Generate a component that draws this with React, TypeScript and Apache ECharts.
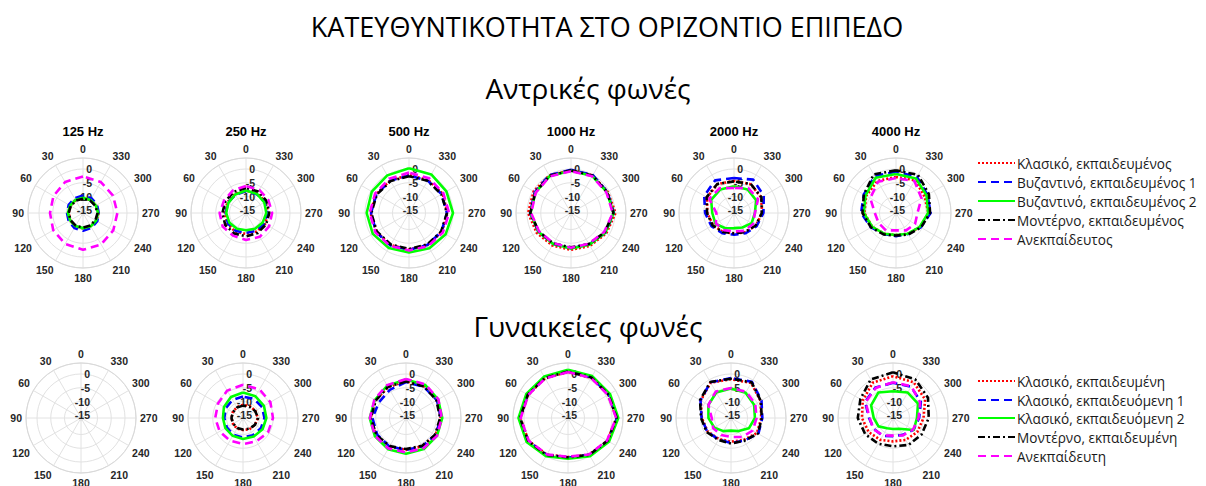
import React, { useEffect, useRef } from "react";
import * as echarts from "echarts";

// Measurement directions (degrees), counter-clockwise from the front
const angles = [0, 30, 60, 90, 120, 150, 180, 210, 240, 270, 300, 330];
const freqLabels = ["125 Hz", "250 Hz", "500 Hz", "1000 Hz", "2000 Hz", "4000 Hz"];
const radialTicks = [-15, -10, -5, 0];

const maleNames = [
  "Κλασικό, εκπαιδευμένος",
  "Βυζαντινό, εκπαιδευμένος 1",
  "Βυζαντινό, εκπαιδευμένος 2",
  "Μοντέρνο, εκπαιδευμένος",
  "Ανεκπαίδευτος",
];
const femaleNames = [
  "Κλασικό, εκπαιδευμένη",
  "Κλασικό, εκπαιδευόμενη 1",
  "Κλασικό, εκπαιδευόμενη 2",
  "Μοντέρνο, εκπαιδευμένη",
  "Ανεκπαίδευτη",
];

const lineColors = ["#ff0000", "#0000ff", "#00ff00", "#000000", "#ff00ff"];
const lineDashes: (number[] | "solid")[] = [[2, 2], [8, 5], "solid", [7, 3, 2, 3], [8, 5]];

// Relative level (dB) per direction; order: red, blue, green, black, magenta
const male125 = [
  [-10.6, -10.6, -10.7, -10.8, -10.6, -10.5, -10.4, -10.5, -10.4, -10.3, -10.5, -10.6],
  [-9.6, -9.8, -10, -10.2, -10, -9.7, -9.5, -9.8, -10, -10.3, -10.1, -9.8],
  [-10.5, -10.5, -10.6, -10.5, -10.6, -10.5, -10.5, -10.4, -10.5, -10.5, -10.6, -10.5],
  [-10.8, -10.8, -10.9, -10.8, -10.8, -10.7, -10.7, -10.8, -10.8, -10.7, -10.8, -10.8],
  [-2.7, -3, -3.6, -4, -3.5, -3, -2.6, -2.8, -3.3, -3.5, -3.4, -3],
];
const male250 = [
  [-7.9, -8, -8.2, -8.3, -8.2, -8.2, -8.4, -8.2, -8, -7.9, -7.8, -7.8],
  [-8.1, -8.3, -8.5, -8.6, -8.4, -8.5, -8.8, -8.5, -8.3, -8.2, -8.1, -8.1],
  [-7.8, -8.2, -8.6, -8.8, -9, -9.4, -9.7, -9.4, -9, -8.6, -8.3, -8],
  [-6.9, -7.1, -7.4, -7.4, -7.3, -7.4, -7.5, -7.6, -7.6, -7.5, -7.3, -7],
  [-6.2, -6.5, -6.8, -6.4, -6.2, -6.5, -6.2, -6, -6.3, -6.5, -6.6, -6.3],
];
const male500 = [
  [-2.2, -2.3, -2.2, -2, -2.3, -2.6, -2.7, -2.5, -2.2, -2, -1.9, -2.1],
  [-2.4, -2.4, -2.3, -2.2, -2.2, -2.4, -2.6, -2.6, -2.4, -2.2, -2.3, -2.4],
  [0.3, -0.2, -0.4, -0.6, -0.8, -1.3, -1.6, -1.2, -0.6, 0, -0.3, 0.2],
  [-2.6, -2.6, -2.5, -2.3, -2.5, -2.8, -2.9, -2.8, -2.5, -2.2, -2.4, -2.5],
  [-1.3, -1.6, -1.8, -1.7, -1.9, -2.2, -2.4, -2.1, -1.8, -1.4, -1.6, -1.4],
];
const male1000 = [
  [-0.4, -0.2, -0.3, -0.4, -1.6, -2.4, -2.6, -2.2, -1.2, 0.2, -0.6, -0.2],
  [-0.3, -0.1, -0.8, -1.1, -2.3, -3, -3.2, -2.8, -1.6, -0.4, -0.7, -0.1],
  [-0.6, -0.5, -1.1, -1.3, -2.3, -3, -3.1, -2.7, -1.6, -0.5, -0.9, -0.5],
  [-0.5, -0.4, -1, -1.2, -2.5, -3.2, -3.5, -3, -1.9, -0.6, -0.8, -0.3],
  [-0.8, -0.6, -1.2, -1.5, -2.6, -3.3, -3.4, -3.1, -2.1, -0.8, -1.1, -0.6],
];
const male2000 = [
  [-4.3, -3.9, -4.7, -6.3, -7.2, -8, -8.5, -7.9, -6.8, -5.8, -4.6, -3.9],
  [-3.3, -2.3, -3.5, -5.5, -6.5, -7.5, -8.1, -7.5, -6.5, -5.3, -3.5, -2],
  [-6.3, -6.1, -6.4, -8.1, -8.2, -9.6, -10.5, -9.9, -8.6, -8.4, -6.7, -6.1],
  [-4.5, -3.8, -4.5, -6.2, -7, -8, -8.6, -8, -6.9, -5.9, -4.5, -3.8],
  [-6.9, -5.6, -5.6, -9.6, -8.4, -8.8, -9.3, -8.5, -8, -8.4, -5.9, -5.6],
];
const male4000 = [
  [-2.9, -2.5, -3.5, -4.5, -6, -7.3, -8, -7.3, -5.8, -4.2, -4, -2.2],
  [-1, -0.5, -2.5, -3.3, -5.5, -7.2, -7.6, -7.2, -5.6, -3.4, -2.8, -0.8],
  [-1.8, -1.2, -3.2, -4.3, -6, -7.3, -8, -7.3, -6, -4.3, -3.2, -1.5],
  [-0.5, 0.2, -2.5, -3.8, -5.5, -7, -7.8, -7, -5.5, -3.6, -2.2, 0],
  [-3.3, -2.9, -5.2, -8.3, -8.7, -8.7, -9.7, -8.7, -8, -8.2, -5.3, -2.6],
];

const female125: number[][] = [[], [], [], [], []];
const female250 = [
  [-11.2, -11.5, -11.7, -11.8, -11.8, -11.6, -11.6, -11.3, -11, -10.6, -10.8, -11],
  [-8.2, -8.4, -8.8, -9.2, -9.2, -9, -8.9, -8.8, -8.5, -8.2, -8, -8],
  [-6.7, -7.2, -8, -8.7, -8.6, -8.5, -8.4, -8.2, -7.8, -7.5, -7.2, -6.9],
  [-11.5, -11.6, -11.8, -11.8, -11.9, -11.8, -11.8, -11.5, -11, -10.5, -10.9, -11.3],
  [-3.9, -4.5, -5.5, -5.9, -6.2, -6.5, -6.5, -6.2, -5.5, -5.1, -4.5, -4],
];
const female500 = [
  [-2.6, -3, -3.2, -3.1, -3.4, -3.9, -4.4, -4.1, -3.6, -3.4, -3, -2.7],
  [-2.9, -4.2, -4.6, -3.8, -3.9, -4, -4.4, -4.1, -3.6, -3.3, -3, -2.9],
  [-2, -2.4, -2.9, -2.8, -2.9, -2.9, -3, -3, -3, -2.8, -2.5, -2.1],
  [-2.7, -2.9, -3.3, -3.2, -3.6, -4.2, -4.7, -4.3, -3.8, -3.6, -3.2, -2.8],
  [-1.8, -2.2, -2.7, -2.9, -3, -3.2, -3.5, -3.3, -3, -3, -2.4, -1.9],
];
const female1000 = [
  [0.8, 0.7, 0.8, 1.3, 0.6, -0.6, -1.8, -0.6, 0.5, 1.6, 0.9, 0.9],
  [1, 0.9, 1, 1.5, 0.8, -0.5, -1.6, -0.5, 0.7, 1.8, 1.1, 1.1],
  [1.5, 1.4, 1.5, 2, 1.4, 0, -1.2, 0, 1.2, 2.3, 1.6, 1.6],
  [0.9, 0.8, 0.9, 1.4, 0.7, -0.5, -1.7, -0.5, 0.6, 1.7, 1, 1],
  [0.7, 0.6, 0.7, 1.2, 0.5, -0.7, -1.9, -0.7, 0.4, 1.5, 0.8, 0.8],
];
const female2000 = [
  [-1.9, -1.2, -3.3, -5.4, -6.2, -7.2, -7.4, -6.8, -5.1, -5, -3.6, -1.3],
  [-1.5, -1, -3.2, -5.3, -6, -7, -6.9, -6.5, -4.5, -4.6, -3.2, -0.8],
  [-5.3, -5.3, -6.5, -7.8, -9, -10.5, -11.4, -10.5, -8.5, -7.3, -6.3, -5.4],
  [-1.7, -0.9, -3, -5.1, -5.8, -6.8, -6.7, -6.4, -4.7, -4.8, -3.5, -1],
  [-5.1, -4.9, -6.5, -9, -8.5, -8.9, -9.1, -8, -6.9, -6.7, -5.8, -5],
];
const female4000 = [
  [-0.8, -1.2, -3.3, -4.7, -5.8, -6.8, -7.5, -6.8, -5.8, -4.9, -2.5, -1],
  [-3.2, -3.2, -4.3, -7.3, -8, -8.5, -9.4, -8.9, -7.4, -6.5, -4.3, -2.9],
  [-6.3, -5.3, -6.8, -9, -9.9, -11.7, -12, -11.5, -7.3, -7.3, -5.5, -5.3],
  [0.6, 0.2, -2.3, -3.2, -4.3, -5.2, -5.7, -4.7, -4, -3, -1.3, 0.2],
  [-3, -3.4, -4.5, -7.5, -7.8, -8.7, -9.6, -8.7, -7.6, -6.7, -4.6, -2.7],
];

const maleSets = [male125, male250, male500, male1000, male2000, male4000];
const femaleSets = [female125, female250, female500, female1000, female2000, female4000];

const rowCentersX = [
  [83, 246, 409, 571, 734, 896],
  [81, 243, 406, 568, 731, 893],
];
const rowCenterY = [213, 418];
const legendRowsY = [
  [163, 182, 201, 220, 239],
  [381, 400, 418, 437, 456],
];

const tickFont = "'Liberation Sans', Arial, sans-serif";
const textFont = "'Open Sans', 'Noto Sans', sans-serif";

export default function App() {
  const ref = useRef<HTMLDivElement>(null);

  useEffect(() => {
    document.body.style.margin = "0";
    if (!ref.current) return;
    const chart = echarts.init(ref.current, undefined, { renderer: "svg" });

    const polar: any[] = [];
    const angleAxis: any[] = [];
    const radiusAxis: any[] = [];
    const series: any[] = [];
    const graphic: any[] = [];

    const rows = [
      { sets: maleSets, names: maleNames },
      { sets: femaleSets, names: femaleNames },
    ];

    rows.forEach((row, r) => {
      row.sets.forEach((set, c) => {
        const idx = polar.length;
        polar.push({
          center: [rowCentersX[r][c], rowCenterY[r]],
          radius: 55,
        });
        angleAxis.push({
          polarIndex: idx,
          type: "value",
          min: 0,
          max: 360,
          interval: 30,
          startAngle: 90,
          clockwise: false,
          axisLine: { lineStyle: { color: "#d9d9d9", width: 1 } },
          axisTick: { show: false },
          splitLine: { lineStyle: { color: "#e2e2e2", width: 1 } },
          axisLabel: {
            margin: 4,
            color: "#262626",
            fontSize: 10.5,
            fontWeight: "bold",
            fontFamily: tickFont,
            formatter: (v: number) => (v >= 360 ? "" : String(v)),
          },
        });
        // Rings fall at the multiples of 5 dB between -16 and +4
        radiusAxis.push({
          polarIndex: idx,
          type: "value",
          min: -16,
          max: 4,
          splitNumber: 4,
          axisLine: { show: false },
          axisTick: { show: false },
          splitLine: { lineStyle: { color: "#e2e2e2", width: 1 } },
          axisLabel: {
            color: "#262626",
            fontSize: 10.5,
            fontWeight: "bold",
            fontFamily: tickFont,
            align: "right",
            verticalAlign: "middle",
            margin: -9,
            formatter: (v: number) => (radialTicks.includes(v) ? String(v) : ""),
          },
        });
        set.forEach((vals, s) => {
          const pts = vals.map((v, k) => [v, angles[k]]);
          if (pts.length) pts.push([vals[0], 360]);
          series.push({
            type: "line",
            name: row.names[s],
            coordinateSystem: "polar",
            polarIndex: idx,
            symbol: "none",
            silent: true,
            data: pts,
            lineStyle: {
              color: lineColors[s],
              width: 2.6,
              type: lineDashes[s],
              cap: "butt",
            },
          });
        });
        if (r === 0) {
          graphic.push({
            type: "text",
            x: rowCentersX[r][c],
            y: 131,
            style: {
              text: freqLabels[c],
              fill: "#000",
              font: `bold 13px ${tickFont}`,
              textAlign: "center",
              textVerticalAlign: "middle",
            },
          });
        }
      });

      // Legend drawn by hand so the dash patterns show fully
      row.names.forEach((name, s) => {
        const y = legendRowsY[r][s];
        const dash = lineDashes[s];
        graphic.push({
          type: "line",
          shape: { x1: 978, y1: y, x2: 1015, y2: y },
          style: {
            stroke: lineColors[s],
            lineWidth: 2,
            lineDash: dash === "solid" ? null : dash,
          },
        });
        graphic.push({
          type: "text",
          x: 1017,
          y,
          style: {
            text: name,
            fill: "#1a1a1a",
            font: `13.6px ${textFont}`,
            textAlign: "left",
            textVerticalAlign: "middle",
          },
        });
      });
    });

    graphic.push(
      {
        type: "text",
        x: 607,
        y: 26,
        style: {
          text: "ΚΑΤΕΥΘΥΝΤΙΚΟΤΗΤΑ ΣΤΟ ΟΡΙΖΟΝΤΙΟ ΕΠΙΠΕΔΟ",
          fill: "#000",
          font: `27px ${textFont}`,
          textAlign: "center",
          textVerticalAlign: "middle",
        },
      },
      {
        type: "text",
        x: 588,
        y: 88,
        style: {
          text: "Αντρικές φωνές",
          fill: "#000",
          font: `28px ${textFont}`,
          textAlign: "center",
          textVerticalAlign: "middle",
        },
      },
      {
        type: "text",
        x: 588,
        y: 326,
        style: {
          text: "Γυναικείες φωνές",
          fill: "#000",
          font: `28px ${textFont}`,
          textAlign: "center",
          textVerticalAlign: "middle",
        },
      }
    );

    chart.setOption({
      animation: false,
      backgroundColor: "#ffffff",
      polar,
      angleAxis,
      radiusAxis,
      series,
      graphic,
    });

    return () => chart.dispose();
  }, []);

  return <div ref={ref} style={{ width: 1206, height: 486 }} />;
}
